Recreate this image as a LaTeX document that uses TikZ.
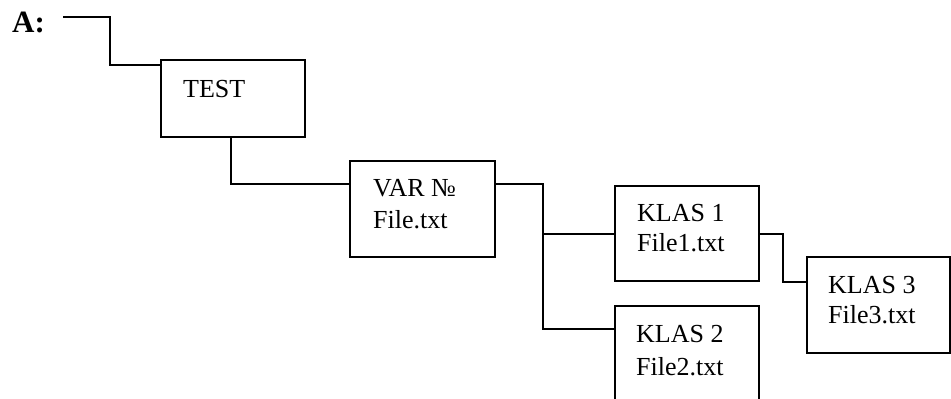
\documentclass[tikz,border=0pt]{standalone}
\usepackage{fontspec}
\setmainfont{Liberation Serif}
\begin{document}
\begin{tikzpicture}[x=1pt,y=-1pt,
  box/.style={draw,line width=1.4pt,rectangle,inner sep=0pt,outer sep=0pt},
  lbl/.style={anchor=base west,inner sep=0pt,font=\fontsize{26}{30}\selectfont},
  conn/.style={line width=1.4pt}]
\clip (0,0) rectangle (951,399);
\fill[white] (0,0) rectangle (951,399);
% boxes
\node[box,minimum width=144pt,minimum height=77pt] (test) at (233,98.5) {};
\node[box,minimum width=145pt,minimum height=96pt] (var) at (422.5,209) {};
\node[box,minimum width=144pt,minimum height=95pt] (k1) at (687,233.5) {};
\node[box,minimum width=144pt,minimum height=120pt] (k2) at (687,366) {};
\node[box,minimum width=143pt,minimum height=96pt] (k3) at (878.5,305) {};
% texts
\node[anchor=base west,inner sep=0pt,font=\fontsize{31}{31}\selectfont\bfseries] (a) at (12,32) {A:};
\coordinate (astart) at (63,17);
\node[lbl] (ttest) at (183,97) {TEST};
\node[lbl] (tvar1) at (373,196) {VAR №};
\node[lbl] (tvar2) at (373,228) {File.txt};
\node[lbl] (tk11) at (637,221) {KLAS 1};
\node[lbl] (tk12) at (637,251) {File1.txt};
\node[lbl] (tk21) at (636,342) {KLAS 2};
\node[lbl] (tk22) at (636,375) {File2.txt};
\node[lbl] (tk31) at (828,293) {KLAS 3};
\node[lbl] (tk32) at (828,323) {File3.txt};
% connectors
\draw[conn] (astart) -- (110,17) -- (110,65) -- (test.west |- 0,65);
\draw[conn] (test.south -| 231,0) -- (231,184) -- (var.west |- 0,184);
\draw[conn] (var.east |- 0,184) -- (543,184) -- (543,329) -- (k2.west |- 0,329);
\draw[conn] (543,234) -- (k1.west |- 0,234);
\draw[conn] (k1.east |- 0,234) -- (783,234) -- (783,282) -- (k3.west |- 0,282);
\end{tikzpicture}
\end{document}
